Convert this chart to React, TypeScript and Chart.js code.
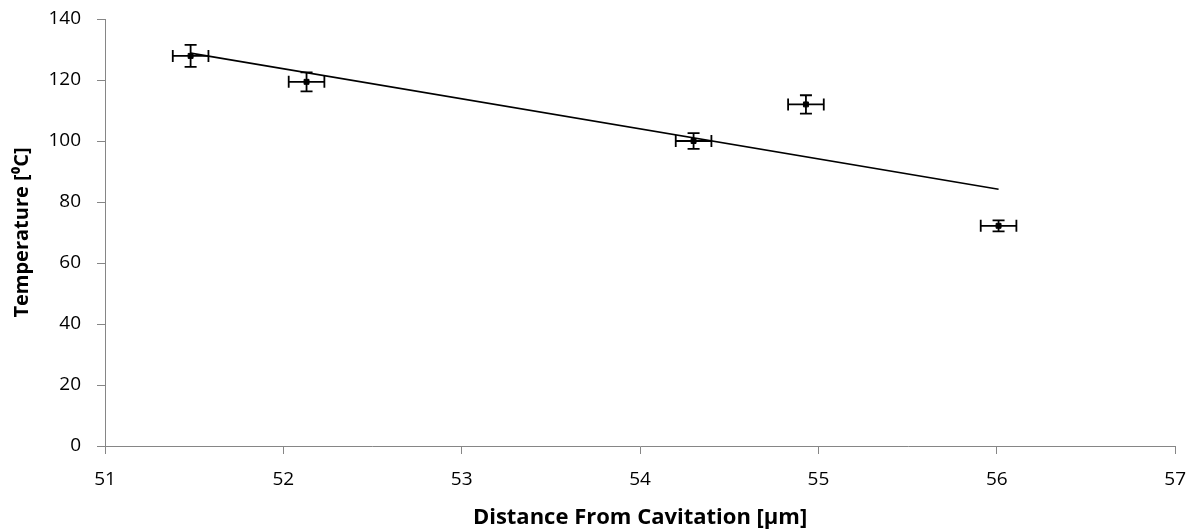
import React, { useEffect, useRef } from "react";
import { Chart, registerables } from "chart.js";

Chart.register(...registerables);

const distance = [51.48, 52.13, 54.3, 54.93, 56.01];
const temperature = [127.9, 119.4, 100.0, 112.0, 72.2];
const distanceError = [0.1, 0.1, 0.1, 0.1, 0.1];
const temperatureError = [3.6, 3.1, 2.6, 3.0, 1.8];
const trendX = [51.48, 56.01];
const trendY = [128.8, 84.2];

const errorBarPlugin = {
  id: "errorBars",
  afterDatasetsDraw(chart: any) {
    const ctx = chart.ctx;
    const xs = chart.scales.x;
    const ys = chart.scales.y;
    const cap = 6;
    ctx.save();
    ctx.strokeStyle = "#000";
    ctx.lineWidth = 1.8;
    for (let i = 0; i < distance.length; i++) {
      const cx = xs.getPixelForValue(distance[i]);
      const cy = ys.getPixelForValue(temperature[i]);
      const x1 = xs.getPixelForValue(distance[i] - distanceError[i]);
      const x2 = xs.getPixelForValue(distance[i] + distanceError[i]);
      const y1 = ys.getPixelForValue(temperature[i] + temperatureError[i]);
      const y2 = ys.getPixelForValue(temperature[i] - temperatureError[i]);
      ctx.beginPath();
      ctx.moveTo(x1, cy);
      ctx.lineTo(x2, cy);
      ctx.moveTo(x1, cy - cap);
      ctx.lineTo(x1, cy + cap);
      ctx.moveTo(x2, cy - cap);
      ctx.lineTo(x2, cy + cap);
      ctx.moveTo(cx, y1);
      ctx.lineTo(cx, y2);
      ctx.moveTo(cx - cap, y1);
      ctx.lineTo(cx + cap, y1);
      ctx.moveTo(cx - cap, y2);
      ctx.lineTo(cx + cap, y2);
      ctx.stroke();
    }
    ctx.restore();
  },
};

export default function App() {
  const ref = useRef<HTMLCanvasElement | null>(null);
  useEffect(() => {
    document.body.style.margin = "0";
    if (!ref.current) return;
    const font = "'Open Sans', sans-serif";
    const chart = new Chart(ref.current, {
      type: "scatter",
      data: {
        datasets: [
          {
            type: "line",
            label: "Trend",
            data: trendX.map((x, i) => ({ x, y: trendY[i] })),
            borderColor: "#000",
            borderWidth: 1.6,
            pointRadius: 0,
            fill: false,
          } as any,
          {
            label: "Temperature",
            data: distance.map((x, i) => ({ x, y: temperature[i] })),
            backgroundColor: "#000",
            borderColor: "#000",
            pointStyle: "rect",
            pointRadius: 3.5,
          },
        ],
      },
      options: {
        animation: false,
        responsive: false,
        maintainAspectRatio: false,
        layout: { padding: { left: 0, right: 23, top: 19, bottom: 0 } },
        plugins: { legend: { display: false }, tooltip: { enabled: false } },
        scales: {
          x: {
            type: "linear",
            min: 51,
            max: 57,
            ticks: { stepSize: 1, color: "#000", font: { family: font, size: 19 }, padding: 14 },
            grid: { drawOnChartArea: false, drawTicks: true, tickLength: 8, color: "#868686" },
            border: { color: "#868686", width: 1 },
            title: {
              display: true,
              text: "Distance From Cavitation [μm]",
              color: "#000",
              font: { family: font, size: 22, weight: "bold" },
              padding: { top: 2, bottom: 0 },
            },
            afterFit: (s: any) => {
              s.height = 85;
            },
          },
          y: {
            min: 0,
            max: 140,
            ticks: { stepSize: 20, color: "#000", font: { family: font, size: 19 }, padding: 16 },
            grid: { drawOnChartArea: false, drawTicks: true, tickLength: 8, color: "#868686" },
            border: { color: "#868686", width: 1 },
            title: {
              display: true,
              text: "Temperature [⁰C]",
              color: "#000",
              font: { family: font, size: 20, weight: "bold" },
              padding: { top: 10, bottom: 4 },
            },
            afterFit: (s: any) => {
              s.width = 105;
              s.paddingTop = 0;
              s.paddingBottom = 0;
            },
          },
        },
      },
      plugins: [errorBarPlugin],
    });
    return () => chart.destroy();
  }, []);
  return (
    <div style={{ width: 1200, height: 531 }}>
      <canvas ref={ref} width={1200} height={531} style={{ display: "block" }} />
    </div>
  );
}
